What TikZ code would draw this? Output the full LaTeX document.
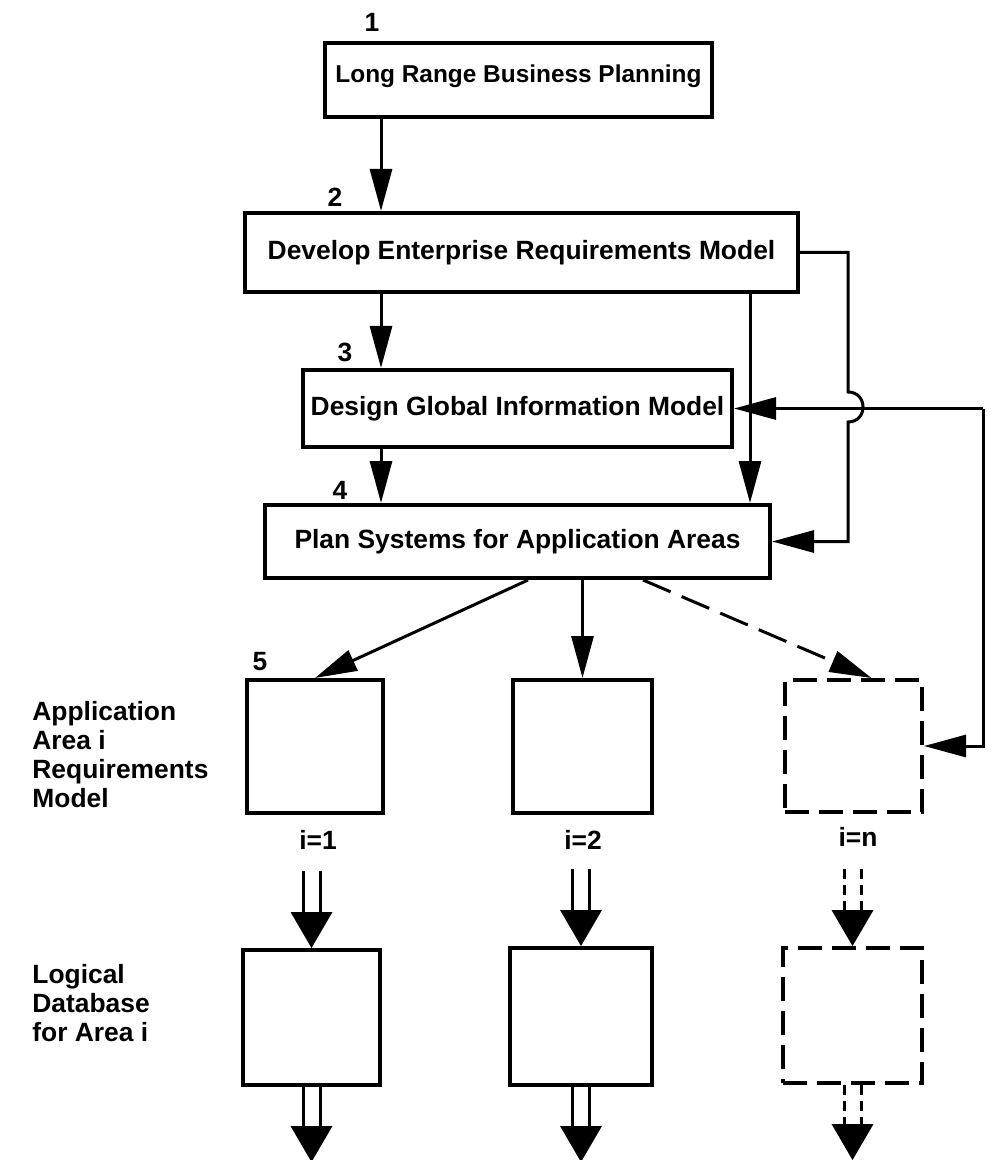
\documentclass[tikz,border=0pt]{standalone}
\usepackage{fontspec}
\setmainfont{Liberation Sans}
\usetikzlibrary{arrows.meta,calc}
\newcommand\dfont{\fontsize{13.2pt}{14.5pt}\selectfont\bfseries}
\newcommand\dfontsm{\fontsize{12.2pt}{14pt}\selectfont\bfseries}
\begin{document}
\begin{tikzpicture}[x=0.5pt,y=-0.5pt,
  box/.style={draw,line width=2pt,inner sep=0pt,font=\dfont},
  dbox/.style={box,dash pattern=on 12pt off 5pt},
  arr/.style={line width=1.5pt,-{Triangle[length=21pt,width=11pt]}},
  darr/.style={arr,dash pattern=on 15pt off 6pt},
  lbl/.style={font=\dfont,inner sep=0pt},
  dl/.style={line width=1.5pt},
  ddl/.style={line width=1.5pt,dash pattern=on 5pt off 3pt}]
\useasboundingbox (0,0) rectangle (1002,1160);
\fill[white] (0,0) rectangle (1002,1160);
% main boxes
\node[box,font=\dfontsm,minimum width=193.5pt,minimum height=37pt,text depth=6pt] (b1) at (518.5,80) {Long Range Business Planning};
\node[box,minimum width=276.5pt,minimum height=39.5pt] (b2) at (521.5,252.5) {Develop Enterprise Requirements Model};
\node[box,minimum width=214.5pt,minimum height=38.5pt] (b3) at (517.5,408.5) {Design Global Information Model};
\node[box,minimum width=252.5pt,minimum height=36.5pt] (b4) at (517.5,541.5) {Plan Systems for Application Areas};
% step numbers
\node[lbl] (n1) at (372,22) {1};
\node[lbl] (n2) at (335,197) {2};
\node[lbl] (n3) at (345,352) {3};
\node[lbl] (n4) at (340,490) {4};
\node[lbl] (n5) at (260,662) {5};
% row 5
\node[box,minimum width=68pt,minimum height=66.5pt] (b5a) at (315,746.5) {};
\node[box,minimum width=69.5pt,minimum height=66.5pt] (b5b) at (582.5,746.5) {};
\node[dbox,minimum width=68.5pt,minimum height=66pt] (b5c) at (853.5,746) {};
% row 6
\node[box,minimum width=68.5pt,minimum height=67.5pt] (b6a) at (311.5,1017.5) {};
\node[box,minimum width=71pt,minimum height=68.5pt] (b6b) at (581,1016.5) {};
\node[dbox,minimum width=69.5pt,minimum height=67.5pt] (b6c) at (852.5,1015.5) {};
% index labels
\node[lbl] (i1) at (318,840) {i=1};
\node[lbl] (i2) at (583,840) {i=2};
\node[lbl] (in) at (858,837) {i=n};
% left labels
\node[lbl,anchor=north west,align=left] (la) at (32,701) {Application\\Area i\\Requirements\\Model};
\node[lbl,anchor=north west,align=left] (lb) at (32,964) {Logical\\Database\\for Area i};
% vertical chain
\coordinate (xm) at (381,0);
\coordinate (xr) at (750,0);
\draw[arr] (b1.south -| xm) -- (b2.north -| xm);
\draw[arr] (b2.south -| xm) -- (b3.north -| xm);
\draw[arr] (b3.south -| xm) -- (b4.north -| xm);
\draw[arr] (b2.south -| xr) -- (b4.north -| xr);
% feedback loop with jump
\draw[arr] (b2.east) -- (848,252.5) -- (848,392)
  .. controls (868,392) and (868,422) .. (848,422)
  -- (848,541.5) -- (b4.east);
% right return line
\coordinate (fb) at (983,408.5);
\draw[arr] (fb) -- (b3.east);
\draw[arr] (fb) |- (b5c.east);
% fan out from box 4
\coordinate (s1) at (528,0);
\coordinate (s3) at (643,0);
\draw[arr] (b4.south -| s1) -- (b5a.north);
\draw[arr] (b4.south -| b5b.north) -- (b5b.north);
\draw[darr] (b4.south -| s3) -- ($(b5c.north)+(18,0)$);
% double arrows
\foreach \t/\b/\s in {b5a/b6a/dl,b5b/b6b/dl,b5c/b6c/ddl}{
  \draw[\s] ($(\b.north)+(-8.5,-77)$) -- ($(\b.north)+(-8.5,-30)$);
  \draw[\s] ($(\b.north)+(8.5,-77)$) -- ($(\b.north)+(8.5,-30)$);
  \fill (\b.north) -- ++(-21,-36) -- ++(42,0) -- cycle;
  \draw[\s] ($(\b.south)+(-8.5,0)$) -- ($(\b.south)+(-8.5,42)$);
  \draw[\s] ($(\b.south)+(8.5,0)$) -- ($(\b.south)+(8.5,42)$);
  \fill ($(\b.south)+(0,75)$) -- ++(-21,-36) -- ++(42,0) -- cycle;
}
\end{tikzpicture}
\end{document}
